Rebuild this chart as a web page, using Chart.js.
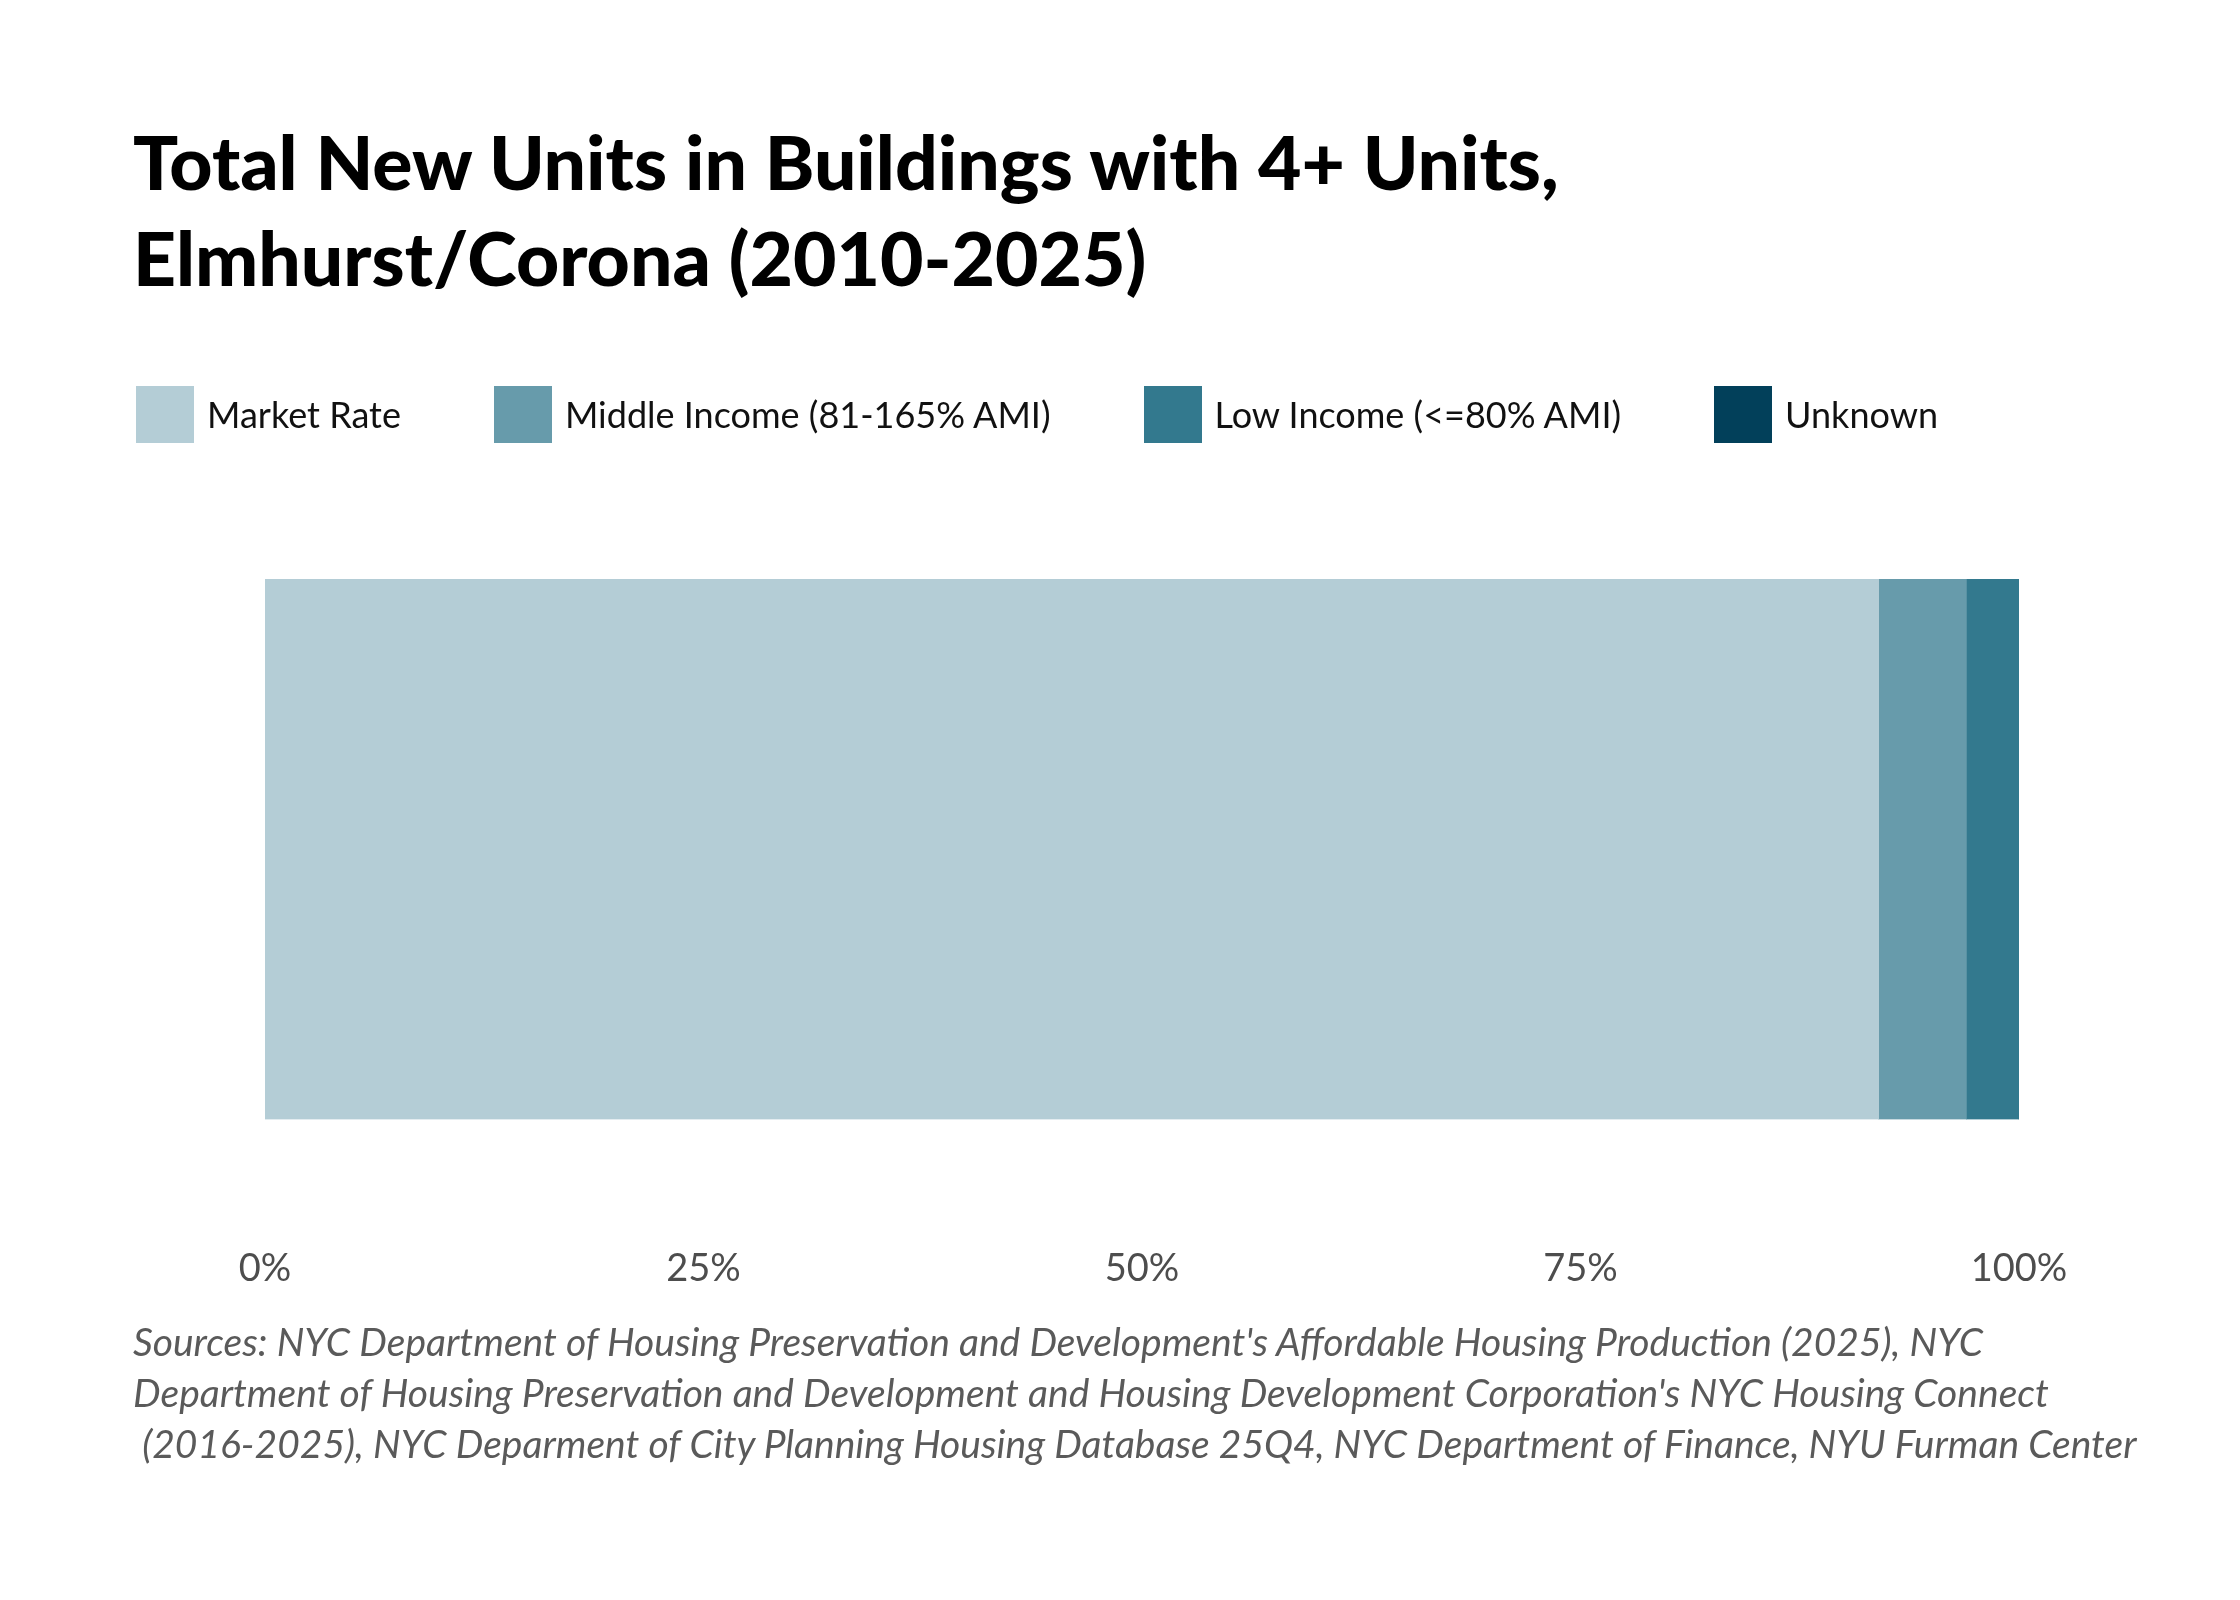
<!DOCTYPE html>
<html>
<head>
<meta charset="utf-8">
<title>Total New Units in Buildings with 4+ Units, Elmhurst/Corona (2010-2025)</title>
<script src="https://cdn.jsdelivr.net/npm/chart.js@4.4.1/dist/chart.umd.min.js"></script>
<style>
  html, body { margin: 0; padding: 0; background: #fff; }
  #page { position: relative; width: 2240px; height: 1600px; font-family: Lato, "Noto Sans", sans-serif; }
  #chart { position: absolute; left: 0; top: 0; }
  #title { position: absolute; left: 133px; top: 113px; margin: 0; font-size: 75px; line-height: 96px; font-weight: 900; color: #000; }
  #legend { position: absolute; left: 136px; top: 385px; height: 58px; display: flex; align-items: center; }
  .item { display: flex; align-items: center; margin-right: 93px; font-size: 36px; color: #111; }
  .swatch { width: 58px; height: 57px; margin-right: 13px; }
  #sources { position: absolute; left: 133px; top: 1316px; margin: 0; font-size: 39px; line-height: 51px; font-style: italic; color: #5a5a5a; white-space: pre; }
</style>
</head>
<body>
<div id="page">
  <canvas id="chart" width="2240" height="1419"></canvas>
  <h1 id="title">Total New Units in Buildings with 4+ Units,<br>Elmhurst/Corona (2010-2025)</h1>
  <div id="legend"></div>
  <p id="sources">Sources: NYC Department of Housing Preservation and Development's Affordable Housing Production (2025), NYC
Department of Housing Preservation and Development and Housing Development Corporation's NYC Housing Connect
 (2016-2025), NYC Deparment of City Planning Housing Database 25Q4, NYC Department of Finance, NYU Furman Center</p>
</div>
<script>
// datos (porcentaje del total de unidades)
const categories = ['Elmhurst/Corona'];
const seriesNames = ['Market Rate', 'Middle Income (81-165% AMI)', 'Low Income (<=80% AMI)', 'Unknown'];
const marketRate = [92];
const middleIncome = [5];
const lowIncome = [3];
const unknown = [0];
const tickValues = [0, 25, 50, 75, 100];

const colors = ['#b4cdd6', '#679bab', '#33798e', '#02405a'];
const seriesValues = [marketRate, middleIncome, lowIncome, unknown];

const datasets = seriesNames.map(function(name, i) {
    return {
        label: name,
        data: seriesValues[i],
        backgroundColor: colors[i],
        borderWidth: 0,
        categoryPercentage: 1,
        barPercentage: 1
    };
});

const chart = new Chart(document.getElementById('chart').getContext('2d'), {
    type: 'bar',
    data: { labels: categories, datasets: datasets },
    options: {
        indexAxis: 'y',
        responsive: false,
        animation: false,
        devicePixelRatio: 1,
        layout: { padding: { left: 265, right: 221, top: 579, bottom: 0 } },
        plugins: {
            legend: { display: false },
            title: { display: false },
            tooltip: { enabled: false }
        },
        scales: {
            x: {
                stacked: true,
                min: 0,
                max: 100,
                afterBuildTicks: function(scale) {
                    scale.ticks = tickValues.map(function(v) { return { value: v }; });
                },
                grid: { display: false, drawTicks: false },
                border: { display: false },
                ticks: {
                    padding: 127,
                    color: '#4d4d4d',
                    font: { family: 'Lato', size: 38 },
                    maxRotation: 0,
                    callback: function(v) { return v + '%'; }
                }
            },
            y: {
                stacked: true,
                display: false
            }
        }
    }
});

// leyenda en HTML a partir de los datasets
const legend = document.getElementById('legend');
chart.data.datasets.forEach(function(ds) {
    const item = document.createElement('div');
    item.className = 'item';
    const sw = document.createElement('span');
    sw.className = 'swatch';
    sw.style.background = ds.backgroundColor;
    item.appendChild(sw);
    item.appendChild(document.createTextNode(ds.label));
    legend.appendChild(item);
});
</script>
</body>
</html>
